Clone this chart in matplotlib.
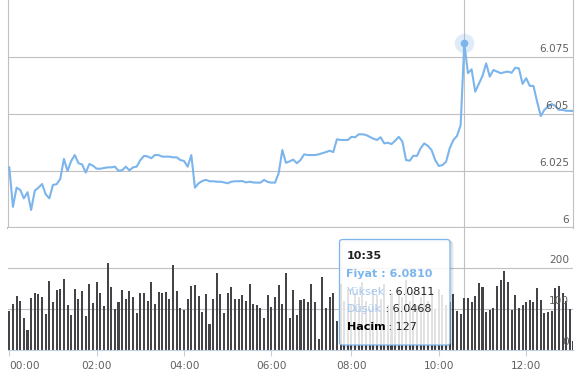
import matplotlib
matplotlib.use("Agg")
import matplotlib.pyplot as plt
from matplotlib.patches import FancyBboxPatch
from matplotlib.transforms import offset_copy, blended_transform_factory

# ---------------- data ----------------
price = [
    6.0266, 6.0093, 6.0177, 6.0167, 6.0130, 6.0157, 6.0079, 6.0164, 6.0177, 6.0193,
    6.0148, 6.0130, 6.0189, 6.0192, 6.0215, 6.0303, 6.0250, 6.0294, 6.0320, 6.0284,
    6.0279, 6.0243, 6.0281, 6.0273, 6.0260, 6.0260, 6.0263, 6.0266, 6.0266, 6.0269,
    6.0251, 6.0253, 6.0269, 6.0253, 6.0266, 6.0269, 6.0298, 6.0316, 6.0314, 6.0306,
    6.0320, 6.0320, 6.0313, 6.0313, 6.0313, 6.0310, 6.0310, 6.0298, 6.0294, 6.0269,
    6.0320, 6.0177, 6.0196, 6.0206, 6.0211, 6.0205, 6.0205, 6.0203, 6.0203, 6.0200,
    6.0196, 6.0203, 6.0205, 6.0205, 6.0206, 6.0200, 6.0203, 6.0200, 6.0199, 6.0199,
    6.0211, 6.0202, 6.0199, 6.0199, 6.0240, 6.0342, 6.0286, 6.0292, 6.0300, 6.0284,
    6.0298, 6.0323, 6.0320, 6.0320, 6.0320, 6.0323, 6.0328, 6.0333, 6.0339, 6.0333,
    6.0389, 6.0386, 6.0386, 6.0386, 6.0400, 6.0398, 6.0411, 6.0411, 6.0408, 6.0400,
    6.0392, 6.0386, 6.0398, 6.0371, 6.0374, 6.0368, 6.0383, 6.0400, 6.0379, 6.0298,
    6.0295, 6.0317, 6.0316, 6.0350, 6.0371, 6.0360, 6.0342, 6.0298, 6.0272, 6.0276,
    6.0291, 6.0350, 6.0386, 6.0404, 6.0452, 6.0810, 6.0679, 6.0696, 6.0598, 6.0632,
    6.0667, 6.0722, 6.0664, 6.0693, 6.0686, 6.0679, 6.0683, 6.0686, 6.0681, 6.0703,
    6.0700, 6.0632, 6.0657, 6.0623, 6.0623, 6.0554, 6.0491, 6.0518, 6.0532, 6.0544,
    6.0535, 6.0518, 6.0518, 6.0514, 6.0514, 6.0513,
]

volume = [
    94, 112, 131, 119, 78, 48, 127, 139, 136, 129,
    87, 168, 117, 146, 149, 173, 109, 85, 149, 124,
    144, 82, 161, 114, 166, 139, 107, 212, 153, 100,
    117, 146, 125, 144, 129, 90, 140, 139, 119, 166,
    112, 141, 139, 141, 124, 207, 144, 102, 97, 124,
    156, 158, 131, 92, 136, 63, 124, 188, 136, 90,
    139, 153, 124, 124, 134, 119, 161, 112, 109, 102,
    78, 134, 104, 129, 158, 112, 188, 78, 146, 85,
    122, 124, 117, 161, 117, 26, 178, 102, 129, 139,
    70, 160, 120, 150, 110, 140, 130, 165, 120, 100,
    150, 135, 125, 160, 110, 140, 95, 150, 130, 170,
    120, 145, 110, 130, 155, 120, 140, 100, 150, 135,
    110, 116, 136, 94, 89, 127, 127, 116, 131, 163,
    153, 92, 97, 102, 156, 171, 193, 166, 97, 134,
    102, 109, 118, 121, 118, 151, 122, 90, 92, 94,
    151, 156, 139, 120, 100, 22,
]

tick_index = [0, 24, 48, 72, 94, 118, 142]
tick_labels = ["00:00", "02:00", "04:00", "06:00", "08:00", "10:00", "12:00"]
price_ticks = [6.0, 6.025, 6.05, 6.075]
price_tick_labels = ["6", "6.025", "6.05", "6.075"]
vol_ticks = [0, 100, 200]
vol_tick_labels = ["0", "100", "200"]

hover_index = 125
tip_time = "10:35"
tip_price = "6.0810"
tip_high = "6.0811"
tip_low = "6.0468"
tip_vol = "127"

# ---------------- layout ----------------
W, H = 577, 378
fig = plt.figure(figsize=(W / 100, H / 100), dpi=100)
fig.patch.set_facecolor("white")

def fx(px):
    return px / W

def fy(py):
    return 1 - py / H

left_px, right_px = 8, 573
ax1 = fig.add_axes([fx(left_px), fy(228), fx(right_px - left_px), 228 / H])
ax2 = fig.add_axes([fx(left_px), fy(350), fx(right_px - left_px), (350 - 228) / H])

step = 3.64
xl = -(9.3 - left_px) / step
xr = (right_px - 9.3) / step
x = list(range(len(price)))
xv = list(range(len(volume)))

grid_c = "#C0C0C0"
lbl_c = "#606060"
line_c = "#7CB5EC"

# ---- top panel ----
ax1.set_xlim(xl, xr)
ax1.set_ylim(6.0, 6.1)
for yv in price_ticks[1:]:
    ax1.axhline(yv, color=grid_c, lw=0.8, zorder=0)
ax1.axvline(hover_index, color=grid_c, lw=0.8, zorder=1)
ax1.plot(x, price, color=line_c, lw=1.5, zorder=3, solid_joinstyle="round")
ax1.plot([hover_index], [price[hover_index]], "o", ms=14, color=line_c, alpha=0.25,
         mec="none", zorder=4)
ax1.plot([hover_index], [price[hover_index]], "o", ms=5.5, color=line_c, mec="none", zorder=5)
ax1.set_xticks([])
ax1.set_yticks([])
ax1.spines["top"].set_visible(False)
for s in ["left", "right"]:
    ax1.spines[s].set_color(grid_c)
    ax1.spines[s].set_linewidth(0.8)
ax1.spines["bottom"].set_color(grid_c)
ax1.spines["bottom"].set_linewidth(1.6)
tr1 = blended_transform_factory(ax1.transAxes, ax1.transData)
for yv, lab in zip(price_ticks, price_tick_labels):
    ax1.text(0.993, yv, lab, transform=offset_copy(tr1, fig=fig, x=0, y=2.5, units="points"),
             ha="right", va="bottom", fontsize=7.6, color=lbl_c, zorder=6)

# ---- bottom panel ----
ax2.set_xlim(xl, xr)
ax2.set_ylim(0, 297.6)
for yv in vol_ticks[1:]:
    ax2.axhline(yv, color=grid_c, lw=0.8, zorder=0)
ax2.axvline(hover_index, color=grid_c, lw=0.8, zorder=1)
ax2.bar(xv, volume, width=0.55, color="#434348", zorder=2, linewidth=0)
ax2.set_yticks([])
ax2.set_xticks(tick_index)
ax2.set_xticklabels(tick_labels)
ax2.tick_params(axis="x", colors="#C0D0E0", length=4, width=0.8, pad=4, labelsize=7.6,
                labelcolor=lbl_c)
ax2.get_xticklabels()[0].set_horizontalalignment("left")
for s in ["top", "left", "right"]:
    ax2.spines[s].set_visible(False)
ax2.spines["bottom"].set_color("#C0D0E0")
ax2.spines["bottom"].set_linewidth(0.8)
tr2 = blended_transform_factory(ax2.transAxes, ax2.transData)
for yv, lab in zip(vol_ticks, vol_tick_labels):
    ax2.text(0.993, yv, lab, transform=offset_copy(tr2, fig=fig, x=0, y=2.5, units="points"),
             ha="right", va="bottom", fontsize=7.6, color=lbl_c, zorder=6)

# ---- tooltip ----
tx0, tx1, ty0, ty1 = 339.5, 450, 239.5, 345
for k, a in [(3, 0.05), (2, 0.08), (1, 0.1)]:
    sh = FancyBboxPatch((fx(tx0 + k), fy(ty1 + k)), fx(tx1 - tx0), (ty1 - ty0) / H,
                        boxstyle="round,pad=0,rounding_size=0.006",
                        transform=fig.transFigure, facecolor="none",
                        edgecolor=(0, 0, 0, a), linewidth=1.0, zorder=9)
    fig.add_artist(sh)
box = FancyBboxPatch((fx(tx0), fy(ty1)), fx(tx1 - tx0), (ty1 - ty0) / H,
                     boxstyle="round,pad=0,rounding_size=0.006",
                     transform=fig.transFigure, facecolor=(1, 1, 1, 0.85),
                     edgecolor=line_c, linewidth=0.9, zorder=10)
fig.add_artist(box)

fs = 8.0
light_blue = "#A3C6EE"
renderer = fig.canvas.get_renderer()

def seg_line(py, parts):
    xpos = fx(346.5)
    for txt, col, wt in parts:
        t = fig.text(xpos, fy(py), txt, color=col, fontsize=fs, fontweight=wt,
                     ha="left", va="center", zorder=11)
        bb = t.get_window_extent(renderer=renderer)
        xpos = xpos + bb.width / W

seg_line(256, [(tip_time, "#222222", "bold")])
seg_line(274, [("Fiyat : " + tip_price, line_c, "bold")])
seg_line(292, [("Yüksek", light_blue, "normal"), (" : " + tip_high, "#222222", "normal")])
seg_line(309.5, [("Düşük", light_blue, "normal"), (" : " + tip_low, "#222222", "normal")])
seg_line(327, [("Hacim", "#000000", "bold"), (" : " + tip_vol, "#222222", "normal")])

fig.savefig("out.png", dpi=100)
